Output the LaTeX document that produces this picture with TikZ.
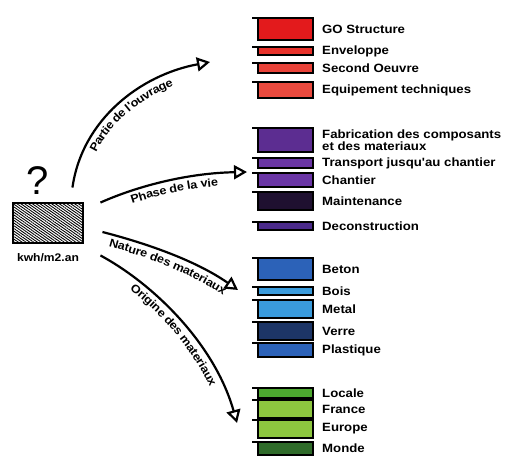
\documentclass[tikz,border=0pt]{standalone}
\usepackage{fontspec}
\setmainfont{Liberation Sans}
\newfontfamily\sketchfont{Liberation Sans Bold}[FakeStretch=1.1]
\usetikzlibrary{arrows.meta,positioning,calc,patterns.meta,decorations.text}
\definecolor{RedA}{HTML}{E31A1C}
\definecolor{RedB}{HTML}{E8322B}
\definecolor{RedC}{HTML}{E84238}
\definecolor{RedD}{HTML}{EA4A3E}
\definecolor{PurA}{HTML}{5C2D91}
\definecolor{PurB}{HTML}{6A35A5}
\definecolor{PurC}{HTML}{4B2A8A}
\definecolor{PurDark}{HTML}{1F1030}
\definecolor{BlueA}{HTML}{2C62B8}
\definecolor{BlueB}{HTML}{3A9BDC}
\definecolor{BlueDark}{HTML}{1D3566}
\definecolor{GreenA}{HTML}{4DA830}
\definecolor{GreenB}{HTML}{8DC63F}
\definecolor{GreenDark}{HTML}{2F6B2A}

\begin{document}
\begin{tikzpicture}[x=1pt,y=1pt,
    catlabel/.style={anchor=west,inner sep=0pt,align=left,font=\sketchfont\fontsize{12}{11}\selectfont},
    axistext/.style={decorate,decoration={text along path,text align=center,raise=-12.5pt,
      text={|\sketchfont\fontsize{11.5}{12}\selectfont|#1}}},
    flow/.style={line width=2.2pt,line join=round,-{Triangle[open,length=13pt,width=14pt]}}]
  \useasboundingbox (0,0) rectangle (510,455);
  \def\catbar#1#2#3#4#5{
    \fill[#3] (258,#1) rectangle (313,#2);
    \draw[line width=1.6pt] (258,#1) rectangle (313,#2);
    \draw[line width=1.2pt] (252,#2) -- (258,#2);
    \node[catlabel] (#4) at (322,{(#1+#2)/2}) {#5};
  }
  \catbar{415}{437}{RedA}{go}{GO Structure}
  \catbar{400}{408}{RedB}{env}{Enveloppe}
  \catbar{382}{392}{RedC}{second}{Second Oeuvre}
  \catbar{357}{373}{RedD}{equip}{Equipement techniques}
  \catbar{303}{327}{PurA}{fab}{Fabrication des composants\\et des materiaux}
  \catbar{287}{297}{PurB}{transport}{Transport jusqu'au chantier}
  \catbar{268}{282}{PurB}{chantier}{Chantier}
  \catbar{245}{263}{PurDark}{maint}{Maintenance}
  \catbar{225}{233}{PurC}{decon}{Deconstruction}
  \catbar{175}{197}{BlueA}{beton}{Beton}
  \catbar{160}{168}{BlueB}{bois}{Bois}
  \catbar{137}{155}{BlueB}{metal}{Metal}
  \catbar{115}{133}{BlueDark}{verre}{Verre}
  \catbar{98}{112}{BlueA}{plast}{Plastique}
  \catbar{57}{67}{GreenA}{locale}{Locale}
  \catbar{37}{55}{GreenB}{france}{France}
  \catbar{17}{35}{GreenB}{europe}{Europe}
  \catbar{0}{13}{GreenDark}{monde}{Monde}

  \node[draw,line width=1.8pt,minimum width=70pt,minimum height=40pt,
    pattern={Lines[angle=-35,distance=2.2pt,line width=0.9pt]}] (src) at (48,232) {};
  \node[inner sep=0pt,font=\fontsize{40}{40}\selectfont,above=8pt of src,xshift=-10pt] (quest) {?};
  \node[inner sep=0pt,font=\sketchfont\fontsize{11}{12}\selectfont,below=10pt of src] (unit) {kwh/m2.an};

  \coordinate (from1) at ($(src.north east)+(-11,15)$);
  \coordinate (from2) at ($(src.north east)+(17,0)$);
  \coordinate (from3) at ($(src.east)+(19,-9)$);
  \coordinate (from4) at ($(src.south east)+(17,-12)$);
  \coordinate (tip1) at (210,393);
  \coordinate (tip2) at (247,283);
  \coordinate (tip3) at (238,165);
  \coordinate (tip4) at (237,32);
  \draw[flow] (from1) .. controls (82,335) and (140,380) .. (tip1);
  \path[axistext={Partie de l'ouvrage}] (from1) .. controls (82,335) and (140,380) .. (tip1);
  \draw[flow] (from2) .. controls (140,270) and (190,282) .. (tip2);
  \path[axistext={Phase de la vie}] (from2) .. controls (140,270) and (190,282) .. (tip2);
  \draw[flow] (from3) .. controls (145,212) and (195,195) .. (tip3);
  \path[axistext={Nature des materiaux}] (from3) .. controls (145,212) and (195,195) .. (tip3);
  \draw[flow] (from4) .. controls (155,170) and (215,110) .. (tip4);
  \path[axistext={Origine des materiaux}] (from4) .. controls (155,170) and (215,110) .. (tip4);
\end{tikzpicture}
\end{document}
